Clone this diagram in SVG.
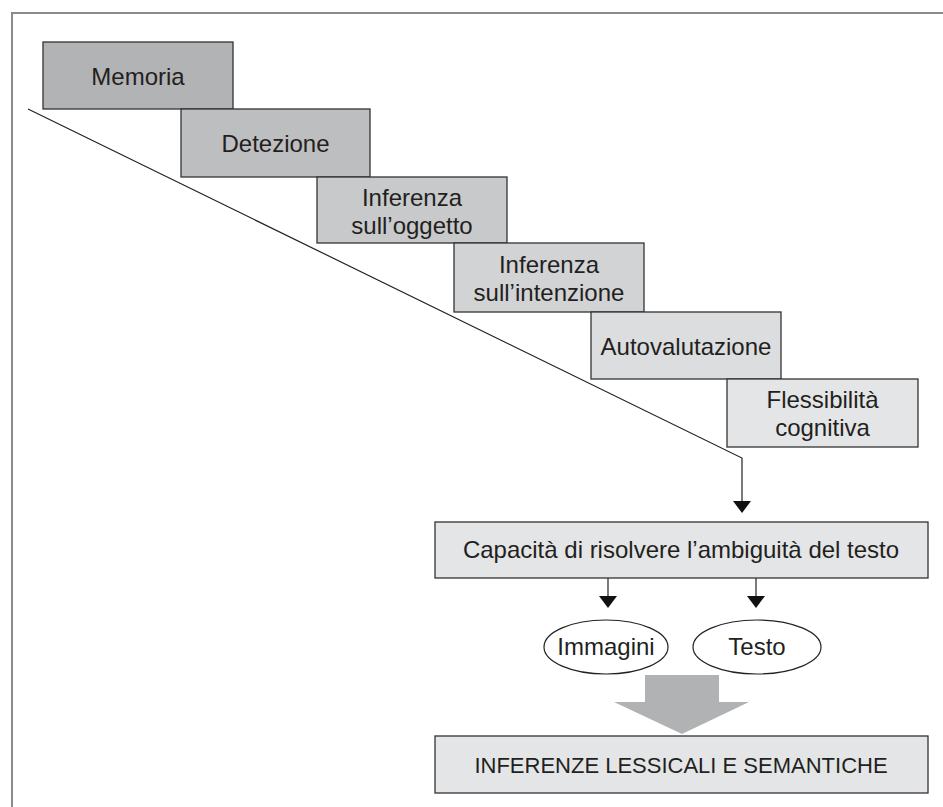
<svg xmlns="http://www.w3.org/2000/svg" width="943" height="807" viewBox="0 0 943 807">
<defs>
<style>
.box{stroke:#333;stroke-width:1.3}
.t{font-family:"Liberation Sans","DejaVu Sans",Arial,sans-serif;font-size:24px;fill:#231f20;text-anchor:middle}
.ln{stroke:#222;stroke-width:1.2;fill:none}
.ah{fill:#111}
.frame{stroke:#8a8a8a;stroke-width:2;fill:none}
</style>
</defs>
<rect x="0" y="0" width="943" height="807" fill="#fff"/>
<path class="frame" d="M12,807 V13 H943"/>
<g id="connectors">
<path class="ln" d="M28,109 L742,458 V503"/>
<path class="ah" d="M733,501 L751,501 L742,513 Z"/>
<path class="ln" d="M608,578 V598"/>
<path class="ah" d="M599,596 L617,596 L608,608 Z"/>
<path class="ln" d="M756,578 V598"/>
<path class="ah" d="M747,596 L765,596 L756,608 Z"/>
<path d="M645,675 H719 V702 H749 L682,734 L614,702 H645 Z" fill="#b1b2b4"/>
</g>
<g id="memoria">
<rect class="box" x="43" y="42" width="190" height="67" fill="#b2b3b5"/>
<text class="t" x="138" y="85">Memoria</text>
</g>
<g id="detezione">
<rect class="box" x="181" y="109" width="189" height="68" fill="#bdbec0"/>
<text class="t" x="275.5" y="152">Detezione</text>
</g>
<g id="inferenza-oggetto">
<rect class="box" x="317" y="177" width="190" height="66" fill="#c8c9cb"/>
<text class="t" x="412" y="206">Inferenza</text>
<text class="t" x="412" y="234">sull’oggetto</text>
</g>
<g id="inferenza-intenzione">
<rect class="box" x="454" y="243" width="190" height="69" fill="#d2d3d5"/>
<text class="t" x="549" y="273">Inferenza</text>
<text class="t" x="549" y="301">sull’intenzione</text>
</g>
<g id="autovalutazione">
<rect class="box" x="591" y="312" width="190" height="67" fill="#dcdddf"/>
<text class="t" x="686" y="355">Autovalutazione</text>
</g>
<g id="flessibilita">
<rect class="box" x="727" y="379" width="191" height="68" fill="#e4e5e6"/>
<text class="t" x="822.5" y="408">Flessibilità</text>
<text class="t" x="822.5" y="436">cognitiva</text>
</g>
<g id="capacita">
<rect class="box" x="435" y="522" width="493" height="56" fill="#e4e5e6"/>
<text class="t" x="681" y="558">Capacità di risolvere l’ambiguità del testo</text>
</g>
<g id="immagini">
<ellipse class="ln" cx="606" cy="647" rx="62" ry="27" fill="#fff"/>
<text class="t" x="606" y="655">Immagini</text>
</g>
<g id="testo">
<ellipse class="ln" cx="757" cy="647" rx="64" ry="27" fill="#fff"/>
<text class="t" x="757" y="655">Testo</text>
</g>
<g id="inferenze">
<rect class="box" x="435" y="736" width="493" height="57" fill="#e4e5e6"/>
<text class="t" x="681" y="773" style="font-size:22px">INFERENZE LESSICALI E SEMANTICHE</text>
</g>
</svg>
